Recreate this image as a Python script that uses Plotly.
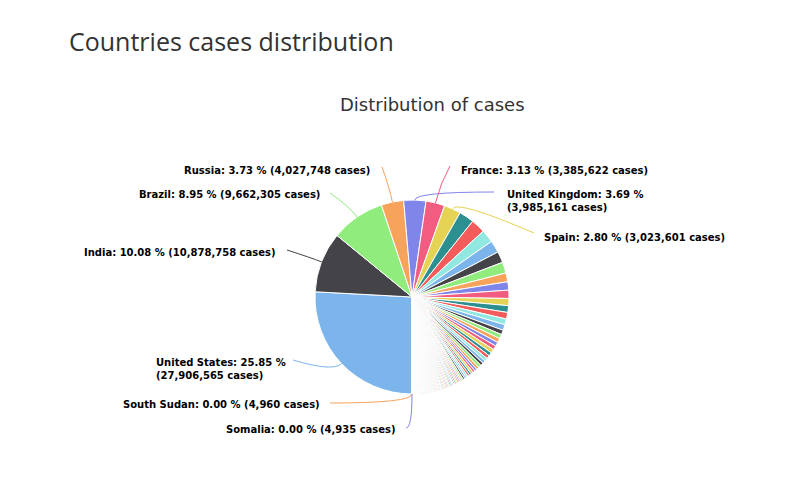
import math
import plotly.graph_objects as go

# ---------------- data ----------------
COUNTRIES = [
    "United States", "India", "Brazil", "Russia", "United Kingdom", "France", "Spain",
    "Italy", "Turkey", "Germany", "Colombia", "Argentina", "Mexico", "Poland", "Iran",
    "South Africa", "Ukraine", "Peru", "Indonesia", "Czechia", "Netherlands", "Canada",
    "Portugal", "Chile", "Romania", "Belgium", "Israel", "Iraq", "Sweden", "Pakistan",
    "Philippines", "Bangladesh", "Switzerland", "Morocco", "Austria", "Serbia", "Japan",
    "Hungary", "Saudi Arabia", "Jordan", "United Arab Emirates", "Panama", "Lebanon",
    "Nepal", "Slovakia", "Ecuador", "Georgia", "Belarus", "Malaysia", "Kazakhstan",
    "Croatia", "Azerbaijan", "Dominican Republic", "Bolivia", "Bulgaria", "Tunisia",
    "Ireland", "Denmark", "Costa Rica", "Lithuania", "Kuwait", "Egypt", "Slovenia",
    "Moldova", "Armenia", "Palestine", "Greece", "Guatemala", "Qatar", "Honduras",
    "Ethiopia", "Paraguay", "Myanmar", "Nigeria", "Oman", "Venezuela", "Libya",
    "Bosnia and Herzegovina", "Algeria", "Bahrain", "Kenya", "North Macedonia", "China",
    "Albania", "Kyrgyzstan", "South Korea", "Uzbekistan", "Ghana", "Sri Lanka", "Latvia",
    "Zambia", "Montenegro", "Kosovo", "Norway", "Singapore", "El Salvador", "Afghanistan",
    "Luxembourg", "Mozambique", "Estonia", "Finland", "Uruguay", "Uganda", "Namibia",
    "Zimbabwe", "Cuba", "Cyprus", "Cameroon", "Côte d'Ivoire", "Senegal", "Sudan",
    "Malawi", "Australia", "Thailand", "Botswana", "DR Congo", "Angola", "Madagascar",
    "Malta", "Jamaica", "Rwanda", "Eswatini", "Maldives", "Mauritania", "Guinea",
    "Cabo Verde", "Syria", "Tajikistan", "Gabon", "Belize", "Haiti", "Burkina Faso",
    "Lesotho", "Suriname", "Bahamas", "Mali", "Congo", "Guyana",
    "Trinidad and Tobago", "Nicaragua", "Togo",
    "Benin", "Central African Republic", "South Sudan", "Somalia",
]
CASES = [
    27906565, 10878758, 9662305, 4027748, 3985161, 3385622, 3023601,
    2697296, 2559286, 2329342, 2194576, 2009703, 1978003, 1581252, 1500806,
    1482412, 1279315, 1219495, 1183555, 1048135, 1022119, 809593,
    774889, 766288, 742933, 725645, 705446, 634918, 608667, 561625,
    542303, 539153, 537788, 475645, 424880, 413568, 409114,
    376289, 371748, 338771, 337613, 332991, 319917,
    272012, 267818, 263584, 262573, 256216, 251604, 248005,
    237155, 230424, 228116, 226484, 224577, 219708,
    206292, 203977, 196035, 190049, 172221, 172082, 171924,
    169282, 168276, 165397, 163946, 163837, 151634, 151599,
    141948, 141365, 141278, 140248, 136201, 132697, 125802,
    124127, 109151, 106668, 102134, 97503, 89736,
    86730, 84604, 82434, 78922, 72778, 71211, 69852,
    69631, 67071, 64700, 64268, 59699, 57519, 55335,
    51209, 50274, 49915, 47910, 45402, 39979, 36522,
    34864, 34000, 32400, 31000, 29300, 29100, 29000,
    28900, 28862, 24104, 23300, 23100, 20000, 19000,
    18100, 17500, 17000, 16500, 16000, 15900, 14700,
    14500, 14400, 13300, 13000, 12100, 11900, 11000,
    9700, 8800, 8300, 8100, 8000, 7800,
    7600, 6400, 6000,
    5100, 5000, 4960, 4935,
]
PALETTE = ["#7cb5ec", "#434348", "#90ed7d", "#f7a35c", "#8085e9",
           "#f15c80", "#e4d354", "#2b908f", "#f45b5b", "#91e8e1"]
LABELED = ["United States", "India", "Brazil", "Russia", "United Kingdom",
           "France", "Spain", "South Sudan", "Somalia"]
TITLE = "Countries cases distribution"
SUBTITLE = "Distribution of cases"

# ---------------- layout constants (pixels) ----------------
W, H = 800, 504
CX, CY, R = 412, 297, 97
# text anchor x, y, xanchor, wrap, connector start sx, sy, connector style
LABEL_LAYOUT = {
    "Russia":         dict(x=371, y=170, anchor="right", wrap=False, sx=382, sy=167, style="radial", bend=15),
    "Brazil":         dict(x=321, y=194, anchor="right", wrap=False, sx=330, sy=193, style="radial", bend=12),
    "India":          dict(x=277, y=252, anchor="right", wrap=False, sx=287, sy=250, style="radial", bend=12),
    "United States":  dict(x=155, y=369, anchor="left",  wrap=True,  sx=293, sy=360, style="radial", bend=12),
    "South Sudan":    dict(x=321, y=404, anchor="right", wrap=False, sx=330, sy=403, style="elbow",  bend=0),
    "Somalia":        dict(x=397, y=429, anchor="right", wrap=False, sx=406, sy=428, style="elbow",  bend=0),
    "France":         dict(x=460, y=170, anchor="left",  wrap=False, sx=450, sy=166, style="radial", bend=20),
    "United Kingdom": dict(x=506, y=201, anchor="left",  wrap=True,  sx=494, sy=192, style="elbow",  bend=0),
    "Spain":          dict(x=543, y=237, anchor="left",  wrap=False, sx=534, sy=233, style="radial", bend=10),
}

order = sorted(range(len(CASES)), key=lambda i: -CASES[i])
names = [COUNTRIES[i] for i in order]
vals = [CASES[i] for i in order]
total = float(sum(vals))
colors = [PALETTE[i % len(PALETTE)] for i in range(len(vals))]

fig = go.Figure()
fig.add_trace(go.Pie(
    labels=names, values=vals, sort=False, direction="clockwise", rotation=180,
    marker=dict(colors=colors, line=dict(color="#ffffff", width=1)),
    textinfo="none", showlegend=False,
    hovertemplate="%{label}: %{percent:.2%}<extra></extra>",
    domain=dict(x=[(CX - R) / W, (CX + R) / W], y=[1 - (CY + R) / H, 1 - (CY - R) / H]),
))

annotations = []
shapes = []
cum = 0.0
for i, (n, v) in enumerate(zip(names, vals)):
    mid = 180.0 + (cum + v / 2.0) / total * 360.0
    cum += v
    if n not in LABEL_LAYOUT:
        continue
    L = LABEL_LAYOUT[n]
    pct = math.floor(v / total * 10000.0) / 100.0
    sep = "<br>" if L["wrap"] else " "
    text = f"{n}: {pct:.2f} %{sep}({v:,} cases)"
    annotations.append(dict(
        x=L["x"], y=L["y"], xref="x", yref="y", text=text, showarrow=False,
        xanchor=L["anchor"], yanchor="middle", align="left", borderpad=0,
        font=dict(family="DejaVu Sans", size=10, color="#000000", weight="bold"),
    ))
    a = math.radians(mid)
    ex, ey = CX + R * math.sin(a), CY - R * math.cos(a)
    if L["style"] == "radial":
        rb = R + L["bend"]
        bx, by = CX + rb * math.sin(a), CY - rb * math.cos(a)
    else:
        bx, by = ex, L["sy"]
    shapes.append(dict(
        type="path", xref="x", yref="y",
        path=f"M {L['sx']},{L['sy']} Q {bx:.2f},{by:.2f} {ex:.2f},{ey:.2f}",
        line=dict(color=colors[i], width=1), layer="above",
    ))

annotations.append(dict(
    x=68, y=41, xref="x", yref="y", text=TITLE, showarrow=False,
    xanchor="left", yanchor="middle", borderpad=0,
    font=dict(family="Open Sans", size=25, color="#333333"),
))
annotations.append(dict(
    x=432, y=104, xref="x", yref="y", text=SUBTITLE, showarrow=False,
    xanchor="center", yanchor="middle", borderpad=0,
    font=dict(family="DejaVu Sans", size=18, color="#333333"),
))

fig.update_layout(
    width=W, height=H, margin=dict(l=0, r=0, t=0, b=0),
    paper_bgcolor="#ffffff", plot_bgcolor="#ffffff",
    xaxis=dict(range=[0, W], visible=False, fixedrange=True),
    yaxis=dict(range=[H, 0], visible=False, fixedrange=True),
    annotations=annotations, shapes=shapes, showlegend=False,
)
fig.write_html("out.html")
